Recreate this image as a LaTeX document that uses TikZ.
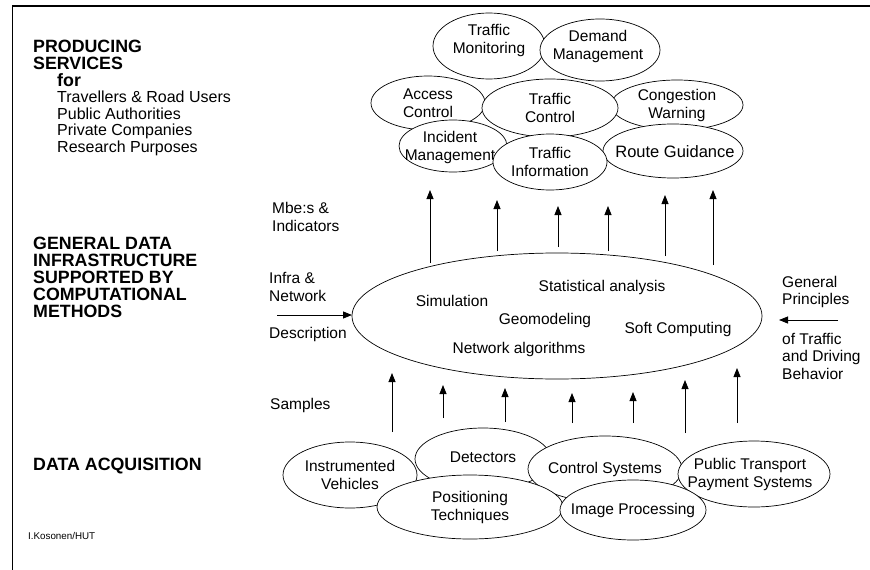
\documentclass[tikz,border=0pt]{standalone}
\usepackage{fontspec}
\setmainfont{Liberation Sans}
\usetikzlibrary{shapes.geometric,arrows.meta}
\begin{document}
\begin{tikzpicture}[x=1pt,y=-1pt,
  ell/.style={ellipse, draw, fill=white, line width=0.7pt, inner sep=0pt},
  lbl/.style={align=center, font=\fontsize{15.5}{18}\selectfont, inner sep=0pt},
  head/.style={anchor=west, align=left, font=\bfseries\fontsize{17.8}{19}\selectfont, inner sep=0pt},
  sub/.style={anchor=west, align=left, font=\fontsize{16}{17}\selectfont, inner sep=0pt},
  side/.style={anchor=west, align=left, font=\fontsize{15.5}{18}\selectfont, inner sep=0pt},
  upar/.style={-{Triangle[length=9pt,width=7pt]}, line width=0.8pt}]
\useasboundingbox (0,0) rectangle (870,570);
% frame
\draw[line width=1.6pt] (12,6) -- (870,6);
\draw[line width=1pt] (12,6) -- (12,570);

% left column
\node[head] (h1) at (33,46) {PRODUCING};
\node[head] (h2) at (33,63) {SERVICES};
\node[head] (h3) at (57,80) {for};
\node[sub] (s1) at (57,97) {Travellers \& Road Users};
\node[sub] (s2) at (57,114) {Public Authorities};
\node[sub] (s3) at (57,131) {Private Companies};
\node[sub] (s4) at (57,148) {Research Purposes};
\node[head] (g1) at (33,243) {GENERAL DATA};
\node[head] (g2) at (33,260) {INFRASTRUCTURE};
\node[head] (g3) at (33,277) {SUPPORTED BY};
\node[head] (g4) at (33,294) {COMPUTATIONAL};
\node[head] (g5) at (33,311) {METHODS};
\node[head] (da) at (33,466) {DATA ACQUISITION};
\node[anchor=west, inner sep=0pt, font=\fontsize{9.8}{12}\selectfont] (auth) at (28,536) {I.Kosonen/HUT};

% side labels
\node[side] (mb1) at (272,208) {Mbe:s \&};
\node[side] (mb2) at (272,226) {Indicators};
\node[side] (in1) at (269,278) {Infra \&};
\node[side] (in2) at (269,296) {Network};
\node[side] (in3) at (269,334) {Description};
\node[side] (smp) at (270,405) {Samples};
\node[side] (gp1) at (782,282) {General};
\node[side] (gp2) at (782,300) {Principles};
\node[side] (gp3) at (782,339) {of Traffic};
\node[side] (gp4) at (782,357) {and Driving};
\node[side] (gp5) at (782,374) {Behavior};

% central ellipse
\node[ell, minimum width=410, minimum height=126] (mid) at (557,316) {};
\node[lbl] (m1) at (452,301) {Simulation};
\node[lbl] (m2) at (602,287) {Statistical analysis};
\node[lbl] (m3) at (545,320) {Geomodeling};
\node[lbl] (m4) at (678,329) {Soft Computing};
\node[lbl] (m5) at (519,349) {Network algorithms};

% horizontal arrows
\coordinate (ia) at (277,315);
\coordinate (ib) at (352,315);
\draw[upar] (ia) -- (ib);
\coordinate (ga) at (838,320);
\coordinate (gb) at (779,320);
\draw[upar] (ga) -- (gb);

% top cluster
\node[ell, minimum width=112, minimum height=66] (tm) at (489,46) {};
\node[lbl] at (489,40) {Traffic\\Monitoring};
\node[ell, minimum width=120, minimum height=62] (dm) at (600,50) {};
\node[lbl] at (598,46) {Demand\\Management};
\node[ell, minimum width=132, minimum height=50] (cw) at (677,105) {};
\node[lbl] at (cw) {Congestion\\Warning};
\node[ell, minimum width=114, minimum height=54] (ac) at (428,103) {};
\node[lbl] at (ac) {Access\\Control};
\node[ell, minimum width=108, minimum height=52] (im) at (453,146) {};
\node[lbl] at (450,147) {Incident\\Management};
\node[ell, minimum width=140, minimum height=54] (rg) at (673,151) {};
\node[lbl, font=\fontsize{16.5}{18}\selectfont] at (675,152) {Route Guidance};
\node[ell, minimum width=136, minimum height=58] (tc) at (550,108) {};
\node[lbl] at (tc) {Traffic\\Control};
\node[ell, minimum width=114, minimum height=56] (ti) at (550,162) {};
\node[lbl] at (ti) {Traffic\\Information};

% bottom cluster
\node[ell, minimum width=134, minimum height=66] (iv) at (350,475) {};
\node[lbl] at (iv) {Instrumented\\Vehicles};
\node[ell, minimum width=136, minimum height=62] (dt) at (483,459) {};
\node[lbl] at (483,457) {Detectors};
\node[ell, minimum width=154, minimum height=66] (cs) at (605,469) {};
\node[lbl] at (cs) {Control Systems};
\node[ell, minimum width=152, minimum height=66] (pt) at (754,474) {};
\node[lbl] at (750,474) {Public Transport\\Payment Systems};
\node[ell, minimum width=186, minimum height=64] (pq) at (470,507) {};
\node[lbl] at (pq) {Positioning\\Techniques};
\node[ell, minimum width=146, minimum height=60] (ip) at (633,510) {};
\node[lbl] at (ip) {Image Processing};

% upward arrows: middle -> services
\foreach \i/\x/\ya/\yb in {1/430/263/190, 2/497/251/200, 3/558/247/206, 4/608/251/206, 5/665/256/195, 6/713/265/190}{
  \coordinate (t\i a) at (\x,\ya);
  \coordinate (t\i b) at (\x,\yb);
  \draw[upar] (t\i a) -- (t\i b);
}
% upward arrows: acquisition -> middle
\foreach \i/\x/\ya/\yb in {1/392/432/373, 2/443/418/385, 3/505/422/388, 4/572/423/393, 5/633/423/392, 6/685/433/380, 7/737/423/368}{
  \coordinate (b\i a) at (\x,\ya);
  \coordinate (b\i b) at (\x,\yb);
  \draw[upar] (b\i a) -- (b\i b);
}
\end{tikzpicture}
\end{document}
